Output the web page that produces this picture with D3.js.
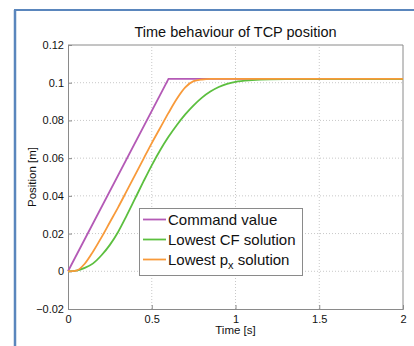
<!DOCTYPE html>
<html>
<head>
<meta charset="utf-8">
<script src="https://cdn.jsdelivr.net/npm/d3@7"></script>
<style>
  body { margin: 0; background: #fff; }
  svg { display: block; font-family: "Liberation Sans", Arial, sans-serif; }
</style>
</head>
<body>
<div class="chart"></div>
<script>
// values
var commandT = [0, 0.6, 2];
var commandPos = [0, 0.102, 0.102];

var cfT = [0, 0.05, 0.1, 0.15, 0.2, 0.25, 0.3, 0.35, 0.4, 0.45, 0.5, 0.55, 0.6, 0.65, 0.7, 0.75, 0.8, 0.85, 0.9, 0.95, 1.0, 1.1, 1.2, 1.3, 1.5, 2];
var cfPos = [0, 0.0004, 0.0018, 0.0042, 0.0085, 0.014, 0.021, 0.0295, 0.0385, 0.0475, 0.0562, 0.0642, 0.0713, 0.0776, 0.0832, 0.088, 0.0921, 0.0953, 0.0977, 0.0994, 0.1005, 0.1014, 0.1018, 0.1019, 0.1019, 0.1019];

var pxT = [0, 0.05, 0.1, 0.15, 0.2, 0.25, 0.3, 0.35, 0.4, 0.45, 0.5, 0.55, 0.6, 0.65, 0.7, 0.75, 0.8, 0.85, 1.0, 1.5, 2];
var pxPos = [0, 0.0004, 0.004, 0.0105, 0.018, 0.026, 0.034, 0.0425, 0.051, 0.0595, 0.068, 0.076, 0.084, 0.0915, 0.0975, 0.1008, 0.1017, 0.102, 0.102, 0.102, 0.102];

var xTicks = [0, 0.5, 1, 1.5, 2];
var yTicks = [-0.02, 0, 0.02, 0.04, 0.06, 0.08, 0.1, 0.12];
var legendNames = ["Command value", "Lowest CF solution", "Lowest p"];
var colors = ["#b45ab6", "#5cbf3f", "#f89a3a"];

var width = 414, height = 346;
var margin = {left: 68, right: 11, top: 45, bottom: 37};

var svg = d3.select(".chart").append("svg")
  .attr("width", width)
  .attr("height", height);

// blue frame of the page
svg.append("line").attr("x1", 15).attr("y1", 10).attr("x2", 15).attr("y2", height)
  .attr("stroke", "#5a86bd").attr("stroke-width", 2.5);
svg.append("line").attr("x1", 14).attr("y1", 10).attr("x2", width).attr("y2", 10)
  .attr("stroke", "#5a86bd").attr("stroke-width", 2);

var x = d3.scaleLinear().domain([0, 2]).range([margin.left, width - margin.right]);
var y = d3.scaleLinear().domain([-0.02, 0.12]).range([height - margin.bottom, margin.top]);

// grid
svg.append("g").selectAll("line").data(xTicks.slice(1, -1)).enter().append("line")
  .attr("x1", function(d) { return x(d); }).attr("x2", function(d) { return x(d); })
  .attr("y1", y(-0.02)).attr("y2", y(0.12))
  .attr("stroke", "#c8c8c8").attr("stroke-dasharray", "1,2");
svg.append("g").selectAll("line").data(yTicks.slice(1, -1)).enter().append("line")
  .attr("x1", x(0)).attr("x2", x(2))
  .attr("y1", function(d) { return y(d); }).attr("y2", function(d) { return y(d); })
  .attr("stroke", "#c8c8c8").attr("stroke-dasharray", "1,2");

// axes
var xAxis = svg.append("g")
  .attr("transform", "translate(0," + y(-0.02) + ")")
  .call(d3.axisBottom(x).tickValues(xTicks).tickSize(-4).tickPadding(6)
    .tickFormat(function(d) { return d3.format("")(d); }));
var yAxis = svg.append("g")
  .attr("transform", "translate(" + x(0) + ",0)")
  .call(d3.axisLeft(y).tickValues(yTicks).tickSize(-4).tickPadding(4)
    .tickFormat(function(d) { return d === 0 ? "0" : d3.format("")(+d.toFixed(2)); }));

[xAxis, yAxis].forEach(function(a) {
  a.select(".domain").attr("stroke", "#8a8a8a");
  a.selectAll(".tick line").attr("stroke", "#8a8a8a");
  a.selectAll("text").attr("fill", "#111").style("font-size", "11px")
    .style("font-family", "'Liberation Sans', Arial, sans-serif");
});
svg.append("line").attr("x1", x(0)).attr("x2", x(2)).attr("y1", y(0.12)).attr("y2", y(0.12))
  .attr("stroke", "#8a8a8a");
svg.append("line").attr("x1", x(2)).attr("x2", x(2)).attr("y1", y(0.12)).attr("y2", y(-0.02))
  .attr("stroke", "#8a8a8a");

// curves
var series = [
  {t: commandT, v: commandPos, curve: d3.curveLinear},
  {t: cfT, v: cfPos, curve: d3.curveMonotoneX},
  {t: pxT, v: pxPos, curve: d3.curveMonotoneX}
];
series.forEach(function(s, i) {
  var line = d3.line()
    .x(function(d, j) { return x(s.t[j]); })
    .y(function(d) { return y(d); })
    .curve(s.curve);
  svg.append("path")
    .attr("d", line(s.v))
    .attr("fill", "none")
    .attr("stroke", colors[i])
    .attr("stroke-width", 1.8);
});

// titles
svg.append("text").attr("x", (x(0) + x(2)) / 2).attr("y", 37)
  .attr("text-anchor", "middle").style("font-size", "14.5px").attr("fill", "#111")
  .text("Time behaviour of TCP position");
svg.append("text").attr("x", (x(0) + x(2)) / 2).attr("y", 334)
  .attr("text-anchor", "middle").style("font-size", "11.5px").attr("fill", "#111")
  .text("Time [s]");
svg.append("text")
  .attr("transform", "translate(36," + ((y(-0.02) + y(0.12)) / 2) + ") rotate(-90)")
  .attr("text-anchor", "middle").style("font-size", "11.5px").attr("fill", "#111")
  .text("Position [m]");

// legend
var legend = svg.append("g");
legend.append("rect").attr("x", 139.5).attr("y", 208.5).attr("width", 163).attr("height", 67)
  .attr("fill", "#fff").attr("stroke", "#8a8a8a");
var rows = legend.selectAll("g.row").data(legendNames).enter().append("g")
  .attr("transform", function(d, i) { return "translate(0," + (219.5 + i * 20) + ")"; });
rows.append("line").attr("x1", 143).attr("x2", 166).attr("y1", 0).attr("y2", 0)
  .attr("stroke", function(d, i) { return colors[i]; }).attr("stroke-width", 1.8);
var labels = rows.append("text").attr("x", 168).attr("y", 5.5)
  .style("font-size", "15px").attr("fill", "#111")
  .text(function(d) { return d; });
labels.filter(function(d, i) { return i === 2; }).each(function() {
  var t = d3.select(this);
  t.append("tspan").attr("dy", 4).style("font-size", "11px").text("x");
  t.append("tspan").attr("dy", -4).text(" solution");
});
</script>
</body>
</html>
